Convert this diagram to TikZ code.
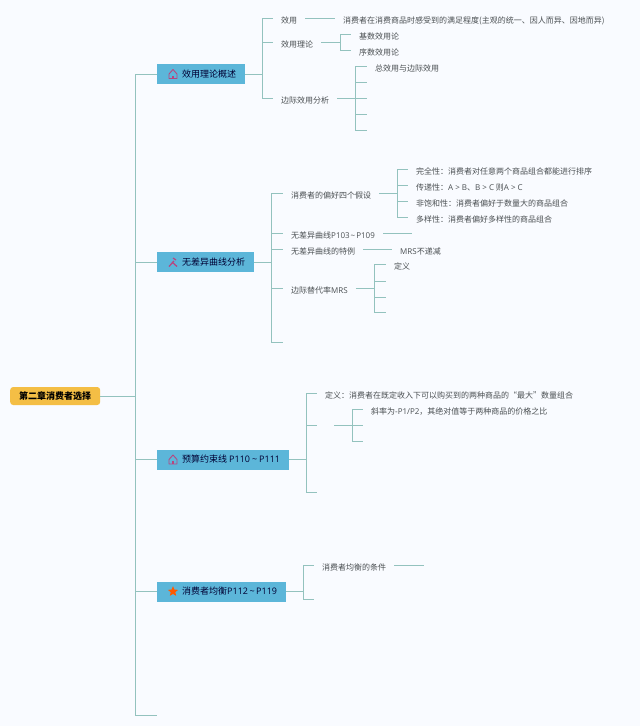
\documentclass[tikz,border=0pt]{standalone}
\usepackage{fontspec}
\setmainfont{Noto Sans CJK SC}
\newfontfamily\latfont{Open Sans}
\usetikzlibrary{calc, positioning}
\usetikzlibrary{shapes.geometric}
\definecolor{paper}{HTML}{F9FBFF}
\definecolor{branchline}{HTML}{93C2BE}
\definecolor{topicfill}{HTML}{5CB6D9}
\definecolor{rootfill}{HTML}{F4BE45}
\definecolor{leaftext}{HTML}{4A4F52}
\definecolor{iconred}{HTML}{B8457F}
\tikzset{
    rootbox/.style = {
        draw=none, fill=rootfill, rounded corners=3pt, minimum height=18pt, inner xsep=9pt, inner ysep=0pt,
        anchor=west, font=\fontsize{9}{10}\selectfont\bfseries, text=black
    },
    topicbox/.style = {
        draw=none, fill=topicfill, minimum height=20pt, inner xsep=9pt, inner ysep=0pt,
        anchor=west, font=\fontsize{9}{10}\selectfont, text=black!80!blue
    },
    leaf/.style = {
        anchor=west, inner xsep=8pt, inner ysep=0pt, text height=10pt, text depth=0pt,
        font=\fontsize{8}{10}\selectfont, text=leaftext
    },
    branch/.style = {draw=branchline, line width=0.8pt},
    pics/HomeIcon/.style = {
        code = {
            \draw[iconred, line width=0.9pt, line join=round] (-4,0) -- (0,-4.5) -- (4,0) -- (4,4.5) -- (-4,4.5) -- cycle;
            \fill[iconred] (-1,1.5) rectangle (1,4.5);
    }},
    pics/ToolIcon/.style = {
        code = {
            \draw[iconred, line width=1.2pt] (-4,4.5) -- (1,-1);
            \draw[iconred, line width=1.2pt] (-1,0) -- (4,4.5);
            \draw[iconred, line width=1.2pt] (0,-4) -- (3,-2);
    }}
}
\begin{document}
\begin{tikzpicture}[x=1pt, y=-1pt]
        \useasboundingbox[fill=paper] (0,0) rectangle (640,726);
        % Place the blocks
        \node [rootbox, minimum width=90pt] (root) at (10,396) {第二章消费者选择};
        \node [topicbox] (t1) at (157,74) {\hspace*{16pt}效用理论概述};
        \node [topicbox] (t2) at (157,262) {\hspace*{16pt}无差异曲线分析};
        \node [topicbox] (t3) at (157,459.5) {\hspace*{16pt}预算约束线 {\latfont P110\kern2pt\textasciitilde\kern2pt P111}};
        \node [topicbox] (t4) at (157,591.5) {\hspace*{16pt}消费者均衡{\latfont P112\kern1.5pt\textasciitilde\kern1.5pt P119}};
        \pic at (173,74) {HomeIcon};
        \pic at (173,262) {ToolIcon};
        \pic at (173,459.5) {HomeIcon};
        \node [star, star points=5, star point ratio=2.2, fill=orange!70!red, inner sep=1.7pt] (t4star) at (173,591.5) {};
        % Leaves of the first topic
        \node [leaf] (a1) at (273,18) {效用};
        \node [leaf] (a2) at (273,42) {效用理论};
        \node [leaf] (a3) at (273,98) {边际效用分析};
        \node [leaf] (a11) at (335,18) {消费者在消费商品时感受到的满足程度(主观的统一、因人而异、因地而异)};
        \node [leaf] (a21) at (351,34) {基数效用论};
        \node [leaf] (a22) at (351,50) {序数效用论};
        \node [leaf] (a31) at (367,66) {总效用与边际效用};
        % Leaves of the second topic
        \node [leaf] (b1) at (283,193) {消费者的偏好四个假设};
        \node [leaf] (b2) at (283,233) {无差异曲线{\latfont P103\kern1pt\textasciitilde\kern1pt P109}};
        \node [leaf] (b3) at (283,249) {无差异曲线的特例};
        \node [leaf] (b4) at (283,288) {边际替代率{\latfont MRS}};
        \node [leaf] (b11) at (408,169) {完全性：消费者对任意两个商品组合都能进行排序};
        \node [leaf] (b12) at (408,185) {传递性：{\latfont A > B}、{\latfont B > C} 则{\latfont A > C}};
        \node [leaf] (b13) at (408,201) {非饱和性：消费者偏好于数量大的商品组合};
        \node [leaf] (b14) at (408,217) {多样性：消费者偏好多样性的商品组合};
        \node [leaf] (b31) at (392,249) {{\latfont MRS}不递减};
        \node [leaf] (b41) at (386,264) {定义};
        % Leaves of the third and fourth topic
        \node [leaf] (c1) at (317,393) {定义：消费者在既定收入下可以购买到的两种商品的“最大”数量组合};
        \node [leaf] (c21) at (363,409) {斜率为{\latfont -P1/P2}，其绝对值等于两种商品的价格之比};
        \node [leaf] (d1) at (314,565) {消费者均衡的条件};
        % Free ends and bends
        \coordinate (spine) at (135,396);
        \coordinate (t5end) at (157,715);
        \coordinate (a1bend) at (262,74);
        \coordinate (a2bend) at (340,42);
        \coordinate (a3bend) at (355,98);
        \coordinate (b0bend) at (271,262);
        \coordinate (b1bend) at (397,193);
        \coordinate (b4bend) at (374,288);
        \coordinate (c0bend) at (306,459.5);
        \coordinate (c2start) at (334,425);
        \coordinate (c2bend) at (352,425);
        \coordinate (d0bend) at (303,591.5);
        \coordinate (b2end) at (412,233);
        \coordinate (d1end) at (424,565);
        \begin{scope}[branch]
            \draw (root.east) -- (spine);
            \draw (spine) |- (t1.west);
            \draw (spine) |- (t2.west);
            \draw (spine) |- (t3.west);
            \draw (spine) |- (t4.west);
            \draw (spine) |- (t5end);
            \draw (t1.east) -- (a1bend);
            \foreach \leafname in {a1, a2, a3} {
                \draw (a1bend) |- (\leafname.west);
            }
            \draw (a1.east) -- (a11.west);
            \draw (a2.east) -- (a2bend);
            \draw (a2bend) |- (a21.west);
            \draw (a2bend) |- (a22.west);
            \draw (a3.east) -- (a3bend);
            \draw (a3bend) |- (a31.west);
            \foreach \y in {82, 98, 114, 130} {
                \draw (a3bend) |- (367,\y);
            }
            \draw (t2.east) -- (b0bend);
            \foreach \leafname in {b1, b2, b3, b4} {
                \draw (b0bend) |- (\leafname.west);
            }
            \draw (b0bend) |- (283,342);
            \draw (b1.east) -- (b1bend);
            \foreach \leafname in {b11, b12, b13, b14} {
                \draw (b1bend) |- (\leafname.west);
            }
            \draw (b2.east) -- (b2end);
            \draw (b3.east) -- (b31.west);
            \draw (b4.east) -- (b4bend);
            \draw (b4bend) |- (b41.west);
            \foreach \y in {281, 297, 312} {
                \draw (b4bend) |- (386,\y);
            }
            \draw (t3.east) -- (c0bend);
            \draw (c0bend) |- (c1.west);
            \draw (c0bend) |- (317,425);
            \draw (c0bend) |- (317,492);
            \draw (c2start) -- (c2bend);
            \draw (c2bend) |- (c21.west);
            \draw (c2bend) -- (363,425);
            \draw (c2bend) |- (363,441);
            \draw (t4.east) -- (d0bend);
            \draw (d0bend) |- (d1.west);
            \draw (d0bend) |- (314,599);
            \draw (d1.east) -- (d1end);
        \end{scope}
    \end{tikzpicture}
\end{document}
